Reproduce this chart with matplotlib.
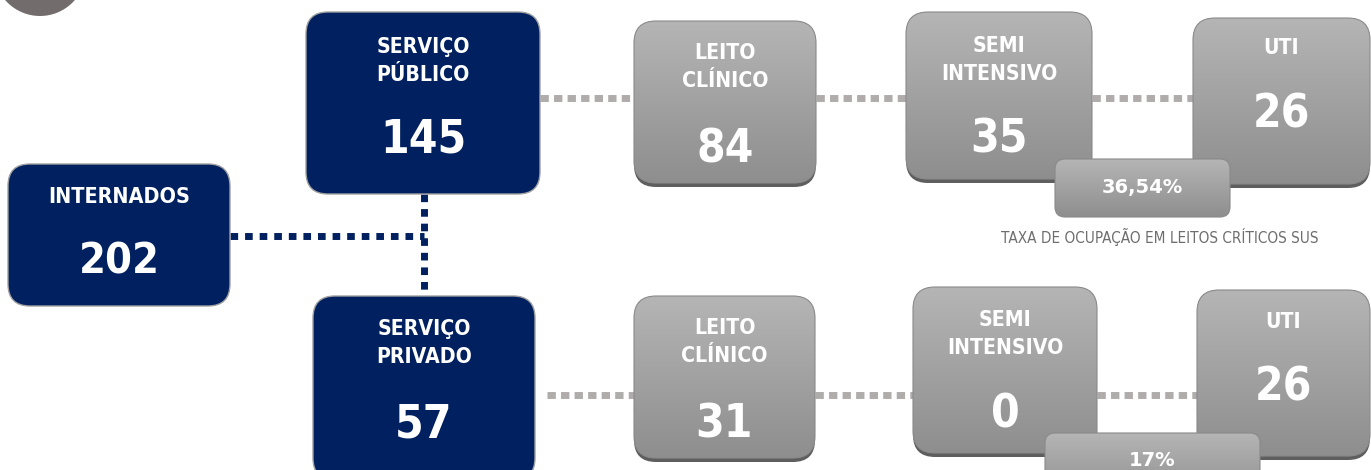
import matplotlib
matplotlib.use("Agg")
import matplotlib.pyplot as plt
import numpy as np
from matplotlib.patches import FancyBboxPatch, Circle

# ---- data ----
root_label = "INTERNADOS"
root_value = 202
service_labels = ["SERVIÇO\nPÚBLICO", "SERVIÇO\nPRIVADO"]
service_values = [145, 57]
bed_labels = ["LEITO\nCLÍNICO", "SEMI\nINTENSIVO", "UTI"]
public_beds = [84, 35, 26]
private_beds = [31, 0, 26]
occupancy_labels = ["36,54%", "17%"]
occupancy_caption = "TAXA DE OCUPAÇÃO EM LEITOS CRÍTICOS SUS"

NAVY = "#002060"
W, H = 1371, 470
fig = plt.figure(figsize=(W / 100, H / 100), dpi=100)
ax = fig.add_axes([0, 0, 1, 1])
ax.set_xlim(0, W)
ax.set_ylim(H, 0)
ax.axis("off")
FONT = "DejaVu Sans"


def navy_box(x0, y0, x1, y1, r=22):
    p = FancyBboxPatch((x0, y0), x1 - x0, y1 - y0,
                       boxstyle=f"round,pad=0,rounding_size={r}",
                       fc=NAVY, ec="#a0a0a0", lw=1.0, zorder=3)
    ax.add_patch(p)


def gray_box(x0, y0, x1, y1, r=22, shadow=True, z=3):
    if shadow:
        s = FancyBboxPatch((x0, y0 + 4), x1 - x0, y1 - y0,
                           boxstyle=f"round,pad=0,rounding_size={r}",
                           fc="#5e5e5e", ec="none", zorder=z)
        ax.add_patch(s)
    p = FancyBboxPatch((x0, y0), x1 - x0, y1 - y0,
                       boxstyle=f"round,pad=0,rounding_size={r}",
                       fc="none", ec="#8a8a8a", lw=0.8, zorder=z + 0.2)
    ax.add_patch(p)
    grad = np.linspace(0, 1, 256).reshape(-1, 1)
    top = np.array([181, 181, 181]) / 255
    bot = np.array([142, 142, 142]) / 255
    img = top[None, None, :] * (1 - grad[:, :, None]) + bot[None, None, :] * grad[:, :, None]
    im = ax.imshow(img, extent=(x0, x1, y1, y0), aspect="auto", zorder=z + 0.1,
                   interpolation="bilinear")
    im.set_clip_path(p)


def dotted(xs, ys, color, lw, pattern):
    ax.plot(xs, ys, color=color, lw=lw, linestyle=(0, pattern),
            solid_capstyle="butt", dash_capstyle="butt", zorder=1)


def label(x, y, s, size, color="white", weight="bold", z=5, ls=1.55,
          stretch="condensed"):
    ax.text(x, y, s, color=color, fontsize=size, fontweight=weight,
            ha="center", va="center", family=FONT, fontstretch=stretch,
            linespacing=ls, zorder=z)


# top-left circle
ax.add_patch(Circle((40, -30), 46, fc="#726d6c", ec="none", zorder=2))

# navy connectors
dotted([230, 424], [236, 236], NAVY, 5.0, (1.1, 1.0))
dotted([424, 424], [194, 296], NAVY, 5.0, (1.1, 1.0))

# gray connectors
GRAY_DOT = "#b0acac"
for y, segs in [(98, [(540, 634), (816, 906), (1092, 1193)]),
                (395, [(547, 634), (815, 913), (1097, 1197)])]:
    for a, b in segs:
        dotted([a, b], [y, y], GRAY_DOT, 5.0, (1.2, 0.75))

# root box
navy_box(8, 164, 230, 306)
label(119, 197, root_label, 15.5)
label(119, 262, str(root_value), 31)

# service boxes
svc_geom = [(306, 12, 540, 194, 61, 140), (313, 296, 535, 480, 343, 425)]
for (x0, y0, x1, y1, ty, vy), lab, val in zip(svc_geom, service_labels, service_values):
    navy_box(x0, y0, x1, y1)
    cx = (x0 + x1) / 2
    label(cx, ty, lab, 15.2)
    label(cx, vy, str(val), 33)

# bed boxes: (x0, y0, x1, y1, label_y, value_y)
top_geom = [(634, 21, 816, 183, 67, 150), (906, 12, 1092, 179, 60, 140),
            (1193, 18, 1370, 184, 48, 115)]
bot_geom = [(634, 296, 815, 458, 342, 425), (913, 287, 1097, 453, 334, 415),
            (1197, 290, 1370, 456, 322, 388)]

for geom, vals in [(top_geom, public_beds), (bot_geom, private_beds)]:
    for (x0, y0, x1, y1, ty, vy), lab, val in zip(geom, bed_labels, vals):
        gray_box(x0, y0, x1, y1)
        cx = (x0 + x1) / 2
        label(cx, ty, lab, 15.2, z=6)
        label(cx, vy, str(val), 33, z=6)

# occupancy boxes
occ_geom = [(1055, 159, 1230, 217, 188), (1045, 433, 1260, 500, 461)]
for (x0, y0, x1, y1, ty), lab in zip(occ_geom, occupancy_labels):
    gray_box(x0, y0, x1, y1, r=10, shadow=False, z=7)
    label((x0 + x1) / 2, ty, lab, 14, z=9, stretch="normal")

label(1160, 237, occupancy_caption, 11, color="#6e6e6e", weight="normal")

fig.savefig("out.png", dpi=100)
